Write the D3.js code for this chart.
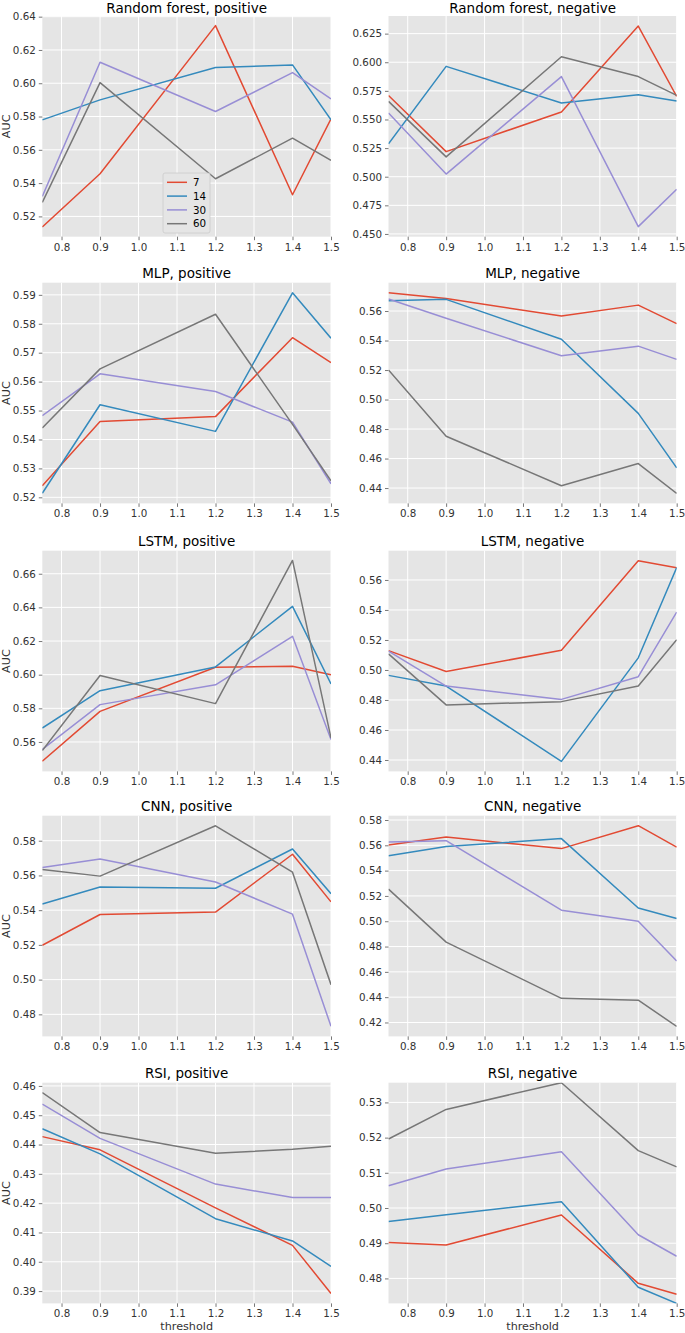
<!DOCTYPE html>
<html>
<head>
<meta charset="utf-8">
<script src="https://cdn.jsdelivr.net/npm/d3@7"></script>
<style>
html,body{margin:0;padding:0;background:#fff;}
svg{display:block;font-family:"DejaVu Sans",sans-serif;}
</style>
</head>
<body>
<svg id="chart" width="685" height="1333"></svg>
<script>
// ---------- data ----------
const thresholds = [0.75, 0.9, 1.2, 1.4, 1.5];
const windows = ["7", "14", "30", "60"];
const colors = ["#E24A33", "#348ABD", "#988ED5", "#777777"];
const xTickValues = [0.8, 0.9, 1.0, 1.1, 1.2, 1.3, 1.4, 1.5];

const panelTitles = [
  "Random forest, positive", "Random forest, negative",
  "MLP, positive", "MLP, negative",
  "LSTM, positive", "LSTM, negative",
  "CNN, positive", "CNN, negative",
  "RSI, positive", "RSI, negative"
];

// each: [window 7, window 14, window 30, window 60]
const rfPositive = [
  [0.5136, 0.5456, 0.6346, 0.5330, 0.5786],
  [0.5780, 0.5900, 0.6094, 0.6110, 0.5780],
  [0.5320, 0.6126, 0.5830, 0.6064, 0.5906],
  [0.5284, 0.6004, 0.5426, 0.5670, 0.5536]
];
const rfNegative = [
  [0.5710, 0.5219, 0.5566, 0.6316, 0.5701],
  [0.5288, 0.5964, 0.5644, 0.5716, 0.5661],
  [0.5557, 0.5023, 0.5875, 0.4564, 0.4890],
  [0.5658, 0.5173, 0.6048, 0.5875, 0.5710]
];
const mlpPositive = [
  [0.5240, 0.5462, 0.5479, 0.5752, 0.5666],
  [0.5214, 0.5520, 0.5428, 0.5907, 0.5750],
  [0.5482, 0.5627, 0.5566, 0.5460, 0.5247],
  [0.5440, 0.5644, 0.5833, 0.5452, 0.5257]
];
const mlpNegative = [
  [0.5724, 0.5685, 0.5566, 0.5640, 0.5515],
  [0.5670, 0.5679, 0.5409, 0.4906, 0.4537],
  [0.5681, 0.5551, 0.5297, 0.5362, 0.5272],
  [0.5200, 0.4751, 0.4416, 0.4566, 0.4364]
];
const lstmPositive = [
  [0.5485, 0.5782, 0.6044, 0.6050, 0.6000],
  [0.5683, 0.5905, 0.6046, 0.6406, 0.5945],
  [0.5555, 0.5822, 0.5940, 0.6228, 0.5614],
  [0.5549, 0.5995, 0.5828, 0.6679, 0.5624]
];
const lstmNegative = [
  [0.5129, 0.4990, 0.5131, 0.5728, 0.5682],
  [0.4964, 0.4893, 0.4391, 0.5081, 0.5682],
  [0.5125, 0.4893, 0.4804, 0.4955, 0.5386],
  [0.5107, 0.4767, 0.4789, 0.4893, 0.5202]
];
const cnnPositive = [
  [0.5198, 0.5375, 0.5389, 0.5722, 0.5448],
  [0.5436, 0.5533, 0.5526, 0.5752, 0.5495],
  [0.5646, 0.5695, 0.5562, 0.5377, 0.4731],
  [0.5634, 0.5596, 0.5886, 0.5619, 0.4971]
];
const cnnNegative = [
  [0.5603, 0.5666, 0.5574, 0.5755, 0.5585],
  [0.5517, 0.5590, 0.5653, 0.5105, 0.5021],
  [0.5627, 0.5637, 0.5087, 0.5000, 0.4685],
  [0.5254, 0.4835, 0.4391, 0.4376, 0.4169]
];
const rsiPositive = [
  [0.4427, 0.4382, 0.4184, 0.4056, 0.3892],
  [0.4454, 0.4368, 0.4147, 0.4071, 0.3984],
  [0.4538, 0.4421, 0.4265, 0.4219, 0.4219],
  [0.4577, 0.4441, 0.4370, 0.4384, 0.4394]
];
const rsiNegative = [
  [0.4902, 0.4895, 0.4980, 0.4786, 0.4755],
  [0.4962, 0.4981, 0.5018, 0.4775, 0.4729],
  [0.5063, 0.5111, 0.5160, 0.4924, 0.4863],
  [0.5196, 0.5280, 0.5356, 0.5163, 0.5117]
];

// y-axis limits and tick labels per panel
const yDomains = [
  [0.5078, 0.6404], [0.4476, 0.6404],
  [0.5179, 0.5942], [0.4296, 0.5792],
  [0.5425, 0.6737], [0.4324, 0.5795],
  [0.4673, 0.5944], [0.4090, 0.5834],
  [0.3858, 0.4611], [0.4729, 0.5356]
];
const yTickLabels = [
  ["0.52","0.54","0.56","0.58","0.60","0.62","0.64"],
  ["0.450","0.475","0.500","0.525","0.550","0.575","0.600","0.625"],
  ["0.52","0.53","0.54","0.55","0.56","0.57","0.58","0.59"],
  ["0.44","0.46","0.48","0.50","0.52","0.54","0.56"],
  ["0.56","0.58","0.60","0.62","0.64","0.66"],
  ["0.44","0.46","0.48","0.50","0.52","0.54","0.56"],
  ["0.48","0.50","0.52","0.54","0.56","0.58"],
  ["0.42","0.44","0.46","0.48","0.50","0.52","0.54","0.56","0.58"],
  ["0.39","0.40","0.41","0.42","0.43","0.44","0.45","0.46"],
  ["0.48","0.49","0.50","0.51","0.52","0.53"]
];

const panelData = [rfPositive, rfNegative, mlpPositive, mlpNegative, lstmPositive,
                   lstmNegative, cnnPositive, cnnNegative, rsiPositive, rsiNegative];

// ---------- layout ----------
const colX = [[42.3, 331.0], [388.5, 676.7]];
const rowTop = [16.0, 282.7, 550.7, 815.7, 1082.7];
const plotH = 220.7;
const textColor = "#333";

const svg = d3.select("#chart");
svg.append("rect").attr("width", 685).attr("height", 1333).attr("fill", "#fff");
const defs = svg.append("defs");

panelData.forEach((series, i) => {
  const row = Math.floor(i / 2), col = i % 2;
  const x0 = colX[col][0], x1 = colX[col][1];
  const y0 = rowTop[row], y1 = rowTop[row] + plotH;

  const x = d3.scaleLinear().domain([0.75, 1.5]).range([x0, x1]);
  const y = d3.scaleLinear().domain(yDomains[i]).range([y1, y0]);
  const yTicks = yTickLabels[i].map(Number);

  const g = svg.append("g");
  g.append("rect").attr("x", x0).attr("y", y0).attr("width", x1 - x0).attr("height", y1 - y0)
    .attr("fill", "#E5E5E5");

  // grid
  g.append("g").selectAll("line").data(xTickValues).join("line")
    .attr("x1", d => x(d)).attr("x2", d => x(d)).attr("y1", y0).attr("y2", y1)
    .attr("stroke", "#fff").attr("stroke-width", 1);
  g.append("g").selectAll("line").data(yTicks).join("line")
    .attr("x1", x0).attr("x2", x1).attr("y1", d => y(d)).attr("y2", d => y(d))
    .attr("stroke", "#fff").attr("stroke-width", 1);

  // axes
  const xAxis = d3.axisBottom(x).tickValues(xTickValues).tickFormat(d3.format(".1f"))
    .tickSize(3.5).tickPadding(3);
  const gx = g.append("g").attr("transform", `translate(0,${y1})`).call(xAxis);
  const yAxis = d3.axisLeft(y).tickValues(yTicks).tickFormat((d, k) => yTickLabels[i][k])
    .tickSize(3.5).tickPadding(3);
  const gy = g.append("g").attr("transform", `translate(${x0},0)`).call(yAxis);
  [gx, gy].forEach(a => {
    a.select(".domain").remove();
    a.selectAll("line").attr("stroke", "#555").attr("stroke-width", 0.8);
    a.selectAll("text").attr("fill", textColor).attr("font-size", "10.3px")
      .attr("font-family", "DejaVu Sans, sans-serif");
  });

  // lines
  const clipId = "clip" + i;
  defs.append("clipPath").attr("id", clipId).append("rect")
    .attr("x", x0).attr("y", y0).attr("width", x1 - x0).attr("height", y1 - y0);
  const line = d3.line().x((d, k) => x(thresholds[k])).y(d => y(d));
  g.append("g").attr("clip-path", `url(#${clipId})`).selectAll("path").data(series).join("path")
    .attr("d", d => line(d)).attr("fill", "none")
    .attr("stroke", (d, k) => colors[k]).attr("stroke-width", 1.5)
    .attr("stroke-linejoin", "round");

  // title
  g.append("text").attr("x", (x0 + x1) / 2).attr("y", Math.max(y0 - 5, 12.8))
    .attr("text-anchor", "middle")
    .attr("font-size", "13.5px").attr("fill", "#000").text(panelTitles[i]);

  if (col === 0) {
    g.append("text").attr("transform", `translate(10,${(y0 + y1) / 2}) rotate(-90)`)
      .attr("text-anchor", "middle").attr("font-size", "11.2px").attr("fill", textColor).text("AUC");
  }
  if (row === 4) {
    g.append("text").attr("x", (x0 + x1) / 2).attr("y", y1 + 27).attr("text-anchor", "middle")
      .attr("font-size", "11.2px").attr("fill", textColor).text("threshold");
  }

  // legend in first panel
  if (i === 0) {
    const lg = g.append("g");
    lg.append("rect").attr("x", 163).attr("y", 173).attr("width", 47).attr("height", 60)
      .attr("rx", 2).attr("fill", "#E5E5E5").attr("stroke", "#cccccc").attr("stroke-width", 0.8);
    windows.forEach((w, k) => {
      const ly = 182.3 + k * 13.8;
      lg.append("line").attr("x1", 167).attr("x2", 187).attr("y1", ly).attr("y2", ly)
        .attr("stroke", colors[k]).attr("stroke-width", 1.5);
      lg.append("text").attr("x", 193).attr("y", ly + 3.7).attr("font-size", "10.3px")
        .attr("fill", "#000").text(w);
    });
  }
});
</script>
</body>
</html>
